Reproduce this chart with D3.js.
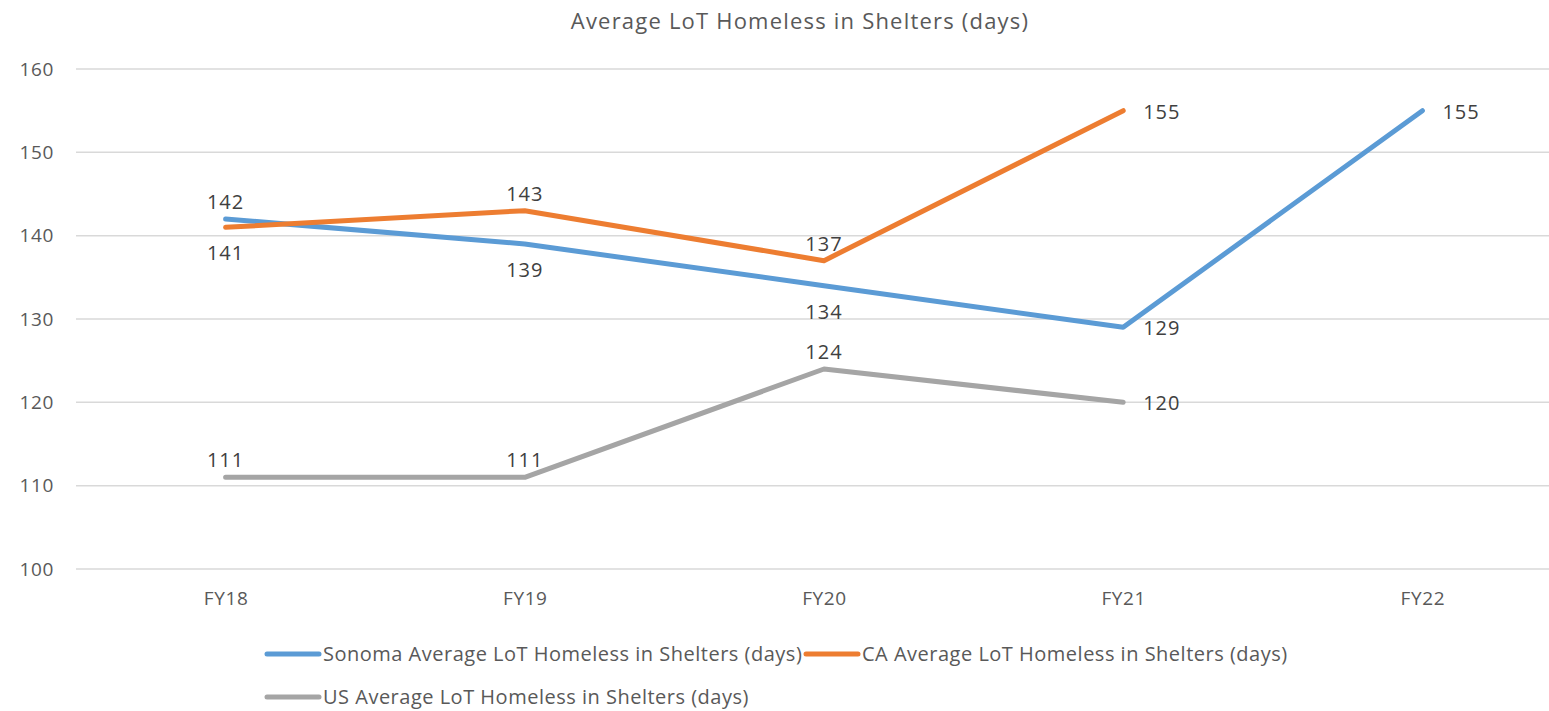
<!DOCTYPE html>
<html>
<head>
<meta charset="utf-8">
<script src="https://cdn.jsdelivr.net/npm/d3@7"></script>
<style>
  body { margin: 0; background: #fff; }
  svg { display: block; font-family: "Open Sans", sans-serif; }
</style>
</head>
<body>
<svg id="chart" width="1549" height="711"></svg>
<script>
const years = ["FY18", "FY19", "FY20", "FY21", "FY22"];
const sonoma = [142, 139, 134, 129, 155];
const ca = [141, 143, 137, 155, null];
const us = [111, 111, 124, 120, null];
const yTicks = [100, 110, 120, 130, 140, 150, 160];

// where each value label sits relative to its point
const sonomaPos = ["above", "below", "below", "right", "right"];
const caPos = ["below", "above", "above", "right", null];
const usPos = ["above", "above", "above", "right", null];

const series = [
    {name: "Sonoma Average LoT Homeless in Shelters (days)", values: sonoma, pos: sonomaPos, color: "#5B9BD5"},
    {name: "CA Average LoT Homeless in Shelters (days)", values: ca, pos: caPos, color: "#ED7D31"},
    {name: "US Average LoT Homeless in Shelters (days)", values: us, pos: usPos, color: "#A5A5A5"}
];

const svg = d3.select("#chart");
const plot = {left: 76, right: 1572, top: 69, bottom: 569};

const x = d3.scalePoint().domain(years).range([plot.left, plot.right]).padding(0.5);
const y = d3.scaleLinear().domain([100, 160]).range([plot.bottom, plot.top]);

svg.append("text")
    .attr("x", 800).attr("y", 29)
    .attr("text-anchor", "middle")
    .attr("fill", "#595959")
    .style("font-size", "22px")
    .style("letter-spacing", "1.2px")
    .text("Average LoT Homeless in Shelters (days)");

// gridlines
svg.append("g")
    .selectAll("line")
    .data(yTicks)
    .enter().append("line")
    .attr("x1", plot.left).attr("x2", plot.right)
    .attr("y1", d => y(d)).attr("y2", d => y(d))
    .attr("stroke", "#D9D9D9")
    .attr("stroke-width", 1.5);

const yAxis = svg.append("g")
    .attr("transform", `translate(${plot.left - 22},0)`)
    .call(d3.axisLeft(y).tickValues(yTicks).tickSize(0).tickPadding(0));
yAxis.select(".domain").remove();
yAxis.selectAll("text")
    .attr("fill", "#595959")
    .style("font-size", "19px")
    .style("letter-spacing", "0.6px")
    .style("font-family", "'Open Sans', sans-serif");

const xAxis = svg.append("g")
    .attr("transform", `translate(0,${plot.bottom + 22})`)
    .call(d3.axisBottom(x).tickSize(0).tickPadding(0));
xAxis.select(".domain").remove();
xAxis.selectAll("text")
    .attr("fill", "#595959")
    .style("font-size", "19px")
    .style("letter-spacing", "0.6px")
    .style("font-family", "'Open Sans', sans-serif");

const line = d3.line()
    .defined(d => d.v !== null)
    .x(d => x(d.year))
    .y(d => y(d.v));

series.forEach(s => {
    const pts = years.map((yr, i) => ({year: yr, v: s.values[i], pos: s.pos[i]}));
    svg.append("path")
        .datum(pts)
        .attr("d", line)
        .attr("fill", "none")
        .attr("stroke", s.color)
        .attr("stroke-width", 5)
        .attr("stroke-linecap", "round")
        .attr("stroke-linejoin", "round");

    svg.append("g")
        .selectAll("text")
        .data(pts.filter(d => d.v !== null))
        .enter().append("text")
        .attr("x", d => d.pos === "right" ? x(d.year) + 20 : x(d.year))
        .attr("y", d => {
            if (d.pos === "above") return y(d.v) - 10;
            if (d.pos === "below") return y(d.v) + 33;
            return y(d.v) + 8;
        })
        .attr("text-anchor", d => d.pos === "right" ? "start" : "middle")
        .attr("fill", "#404040")
        .style("font-size", "20px")
        .style("letter-spacing", "1px")
        .text(d => d.v);
});

// legend
const legendItems = [
    {s: series[0], lx: 267, ly: 654},
    {s: series[1], lx: 806, ly: 654},
    {s: series[2], lx: 267, ly: 697}
];
const legend = svg.append("g")
    .selectAll("g")
    .data(legendItems)
    .enter().append("g")
    .attr("transform", d => `translate(${d.lx},${d.ly})`);
legend.append("line")
    .attr("x1", 0).attr("x2", 52)
    .attr("stroke", d => d.s.color)
    .attr("stroke-width", 5)
    .attr("stroke-linecap", "round");
legend.append("text")
    .attr("x", 56).attr("y", 7)
    .attr("fill", "#595959")
    .style("font-size", "20px")
    .style("letter-spacing", "0.5px")
    .text(d => d.s.name);
</script>
</body>
</html>
